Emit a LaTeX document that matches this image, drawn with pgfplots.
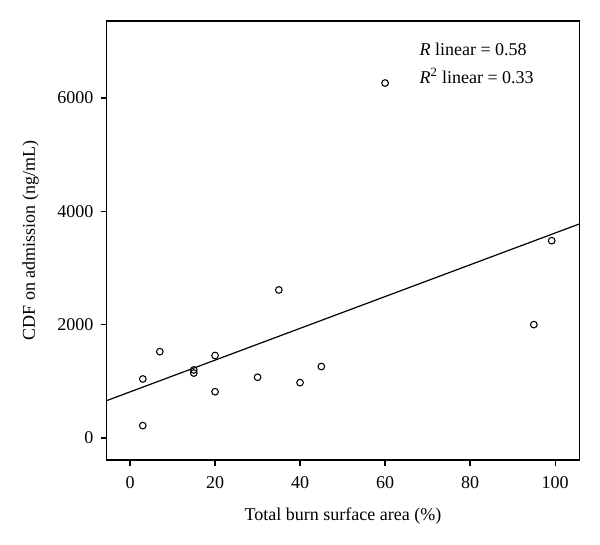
\documentclass[border=0pt]{standalone}
\usepackage{pgfplots}
\pgfplotsset{compat=1.18}
\usepackage{fontspec}
\setmainfont{Liberation Serif}
\begin{document}
\begin{tikzpicture}[x=1pt,y=1pt]
\useasboundingbox (0,0) rectangle (450,408);
\begin{axis}[
  at={(80pt,63pt)}, anchor=south west,
  scale only axis, width=354.5pt, height=329.25pt,
  xmin=-5.5, xmax=105.7, ymin=-390, ymax=7360,
  xtick={0,20,40,60,80,100}, ytick={0,2000,4000,6000},
  axis line style={line width=0.9pt}, 
  tick style={line width=0.9pt, black}, tick align=outside,
  major tick length=4.5pt,
  xtick pos=bottom, ytick pos=left,
  /pgf/number format/1000 sep={},
  /pgf/number format/assume math mode=true,
  tick label style={font=\fontsize{13.5}{16}\selectfont},
  xticklabel style={yshift=-4pt},
  yticklabel style={xshift=-2pt},
  label style={font=\fontsize{13.5}{16}\selectfont},
  xlabel={Total burn surface area (\%)},
  ylabel={CDF on admission (ng/mL)},
  xlabel style={yshift=-8pt},
  ylabel style={yshift=7pt},
  clip=false,
]
\addplot[only marks, mark=o, mark size=2.5pt, mark options={line width=0.8pt, black}] coordinates {
(3,1041) (3,217) (7,1523) (15,1200) (15,1145) (20,1455) (20,815)
(30,1071) (35,2612) (40,976) (45,1260) (60,6265) (95,2000) (99.2,3482)
};
\addplot[black, line width=0.9pt] coordinates {(-5.5,658) (105.7,3777)};
\node[anchor=base west, font=\fontsize{13.5}{16}\selectfont] at (rel axis cs:0.652,0.921) {\textit{R} linear = 0.58};
\node[anchor=base west, font=\fontsize{13.5}{16}\selectfont] at (rel axis cs:0.652,0.858) {\textit{R}\textsuperscript{2} linear = 0.33};
\end{axis}
\end{tikzpicture}
\end{document}
